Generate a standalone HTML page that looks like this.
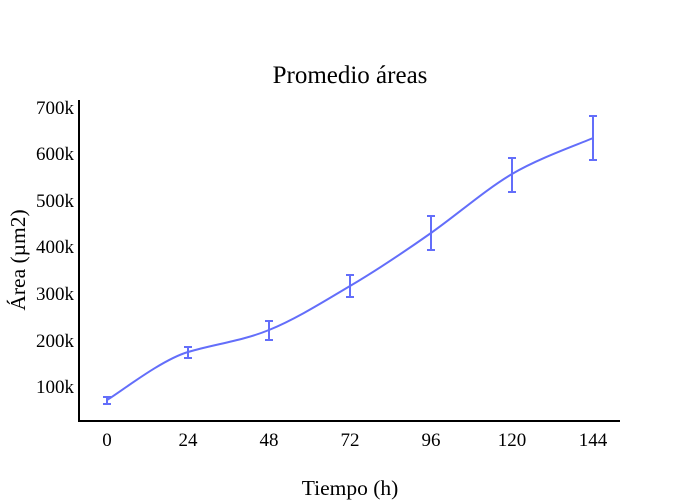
<!DOCTYPE html>
<html><head><meta charset="utf-8"><style>body{margin:0;background:#fff}svg{display:block}text{font-family:"Liberation Serif",serif;fill:#000}</style></head>
<body>
<svg width="700" height="500" viewBox="0 0 700 500">
<text x="350" y="83" font-size="25" text-anchor="middle">Promedio áreas</text>
<line x1="79" y1="100" x2="79" y2="421.5" stroke="#000" stroke-width="2"/>
<line x1="78" y1="421" x2="620" y2="421" stroke="#000" stroke-width="2"/>
<g font-size="19" text-anchor="end">
<text x="74" y="114">700k</text><text x="74" y="160">600k</text><text x="74" y="207">500k</text><text x="74" y="253">400k</text><text x="74" y="300">300k</text><text x="74" y="347">200k</text><text x="74" y="393">100k</text>
</g>
<g font-size="19" text-anchor="middle">
<text x="107" y="446">0</text><text x="188" y="446">24</text><text x="269" y="446">48</text><text x="350" y="446">72</text><text x="431" y="446">96</text><text x="512" y="446">120</text><text x="593" y="446">144</text>
</g>
<text x="350" y="495" font-size="21.5" text-anchor="middle">Tiempo (h)</text>
<text transform="translate(25,260) rotate(-90)" font-size="21.5" text-anchor="middle">Área (µm2)</text>
<path d="M107,400 C120.5,392 161,360 188,352 C215,344 242,341 269,330 C296,319 323,302 350,286 C377,270 404,252 431,233 C458,214 485,190 512,174 C539,158 579.5,144 593,138" fill="none" stroke="#636efa" stroke-width="2"/>
<g stroke="#636efa" stroke-width="2">
<path d="M107,397V404M103,397H111M103,404H111"/>
<path d="M188,347V358M184,347H192M184,358H192"/>
<path d="M269,321V340M265,321H273M265,340H273"/>
<path d="M350,275V297M346,275H354M346,297H354"/>
<path d="M431,216V250M427,216H435M427,250H435"/>
<path d="M512,158V192M508,158H516M508,192H516"/>
<path d="M593,116V160M589,116H597M589,160H597"/>
</g>
</svg>
</body></html>
